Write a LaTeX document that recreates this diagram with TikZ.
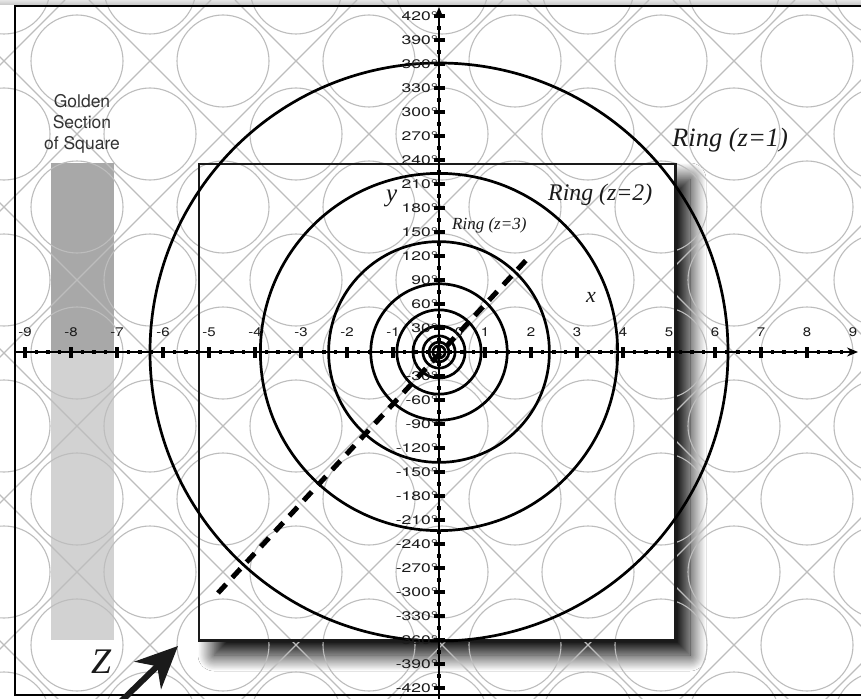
\documentclass[tikz,border=0pt]{standalone}
\usepackage{fontspec}
\setmainfont{Liberation Serif}
\newfontfamily\helv{TeX Gyre Heros}
\newfontfamily\helvy[FakeStretch=1.4]{TeX Gyre Heros}
\newfontfamily\helvx[FakeStretch=1.2]{TeX Gyre Heros}
\newcommand\yaxfont{\helvy\fontsize{12.5}{13}\selectfont}
\newcommand\xaxfont{\helvx\fontsize{12.5}{13}\selectfont}
\newcommand\gsfont{\helv\fontsize{17.5}{21}\selectfont}
\newcommand\degmark{°}
\usetikzlibrary{shadows.blur,arrows.meta}
\definecolor{patgray}{HTML}{BDBDBD}
\definecolor{bardark}{HTML}{A8A8A8}
\definecolor{barlight}{HTML}{D2D2D2}
\definecolor{ink}{HTML}{1A1A1A}
\definecolor{textgray}{HTML}{333333}
\tikzset{
  pat/.style={draw=patgray, line width=1.1pt},
  ringline/.style={draw=black, line width=2.7pt},
  frameline/.style={draw=black, line width=2.4pt},
  axisline/.style={draw=black, line width=1.6pt},
  ylab/.style={anchor=east, inner sep=0pt, text=ink, font=\yaxfont},
  xlab/.style={anchor=center, inner sep=0pt, text=ink, font=\xaxfont},
  ringlab/.style={anchor=base west, inner sep=0pt, text=ink},
}
\newcommand\ylabel[3]{\node[ylab] (#1) at (438,#2) {\yaxfont #3};}
\newcommand\xlabel[3]{\node[xlab] (#1) at (#2,332) {\xaxfont #3};}
\begin{document}
\begin{tikzpicture}[x=1pt,y=-1pt]
\useasboundingbox (0,0) rectangle (861,698);
\fill[white] (0,0) rectangle (861,698);
\shade[top color=gray!20, bottom color=gray!45] (0,0) rectangle (861,5);
% golden section bar
\fill[bardark] (51,163) rectangle (114,352);
\fill[barlight] (51,352) rectangle (114,640);
% square with shadow
\node[fill=white, minimum width=476pt, minimum height=476pt, inner sep=0pt,
  blur shadow={shadow xshift=15pt, shadow yshift=-15pt, shadow blur radius=16pt,
  shadow opacity=100, shadow blur steps=40, shadow blur extra rounding=0pt}] (sq) at (437,402) {};
% background pattern
\begin{scope}
\clip (0,0) rectangle (861,698);
\foreach \k in {0,...,11} \draw[pat] ({65+146*\k},0) -- ({65+146*\k-700},700);
\foreach \k in {-5,...,6} \draw[pat] ({-57+146*\k},0) -- ({-57+146*\k+700},700);
\foreach \n in {-1,...,12}{\foreach \p in {-1,...,10}{%
  \ifodd\numexpr\n+\p\relax \draw[pat] ({4+73*\n},{61+73*\p}) circle[radius=46pt];\fi}}
\end{scope}
% frame
\coordinate (ftr) at (861,6);
\coordinate (ftl) at (15,6);
\coordinate (fbl) at (15,695);
\coordinate (fbr) at (861,695);
\draw[frameline] (ftr) -- (ftl) -- (fbl) -- (fbr);
% square outline
\draw[draw=ink, line width=2.6pt] (sq.north west) rectangle (sq.south east);
% rings
\coordinate (O) at (439,352);
\foreach \k in {0,...,8}{\pgfmathsetmacro\rr{289/(1.618^\k)}
  \draw[ringline] (O) circle[radius=\rr pt];}
% axes
\coordinate (xa) at (15,352);
\coordinate (xb) at (858,352);
\coordinate (ya) at (439,700);
\coordinate (yb) at (439,7);
\draw[axisline, -{Stealth[length=11pt,width=9pt]}] (xa) -- (xb);
\draw[axisline, -{Stealth[length=11pt,width=9pt]}] (ya) -- (yb);
\foreach \t in {-36,...,35}{
  \pgfmathsetmacro\xx{439+11.5*\t}
  \pgfmathtruncatemacro\mm{mod(abs(\t),4)}
  \ifnum\mm=0
    \fill ({\xx-1.9},346.5) rectangle ({\xx+1.9},357.5);
  \else
    \fill ({\xx-1.9},350.1) rectangle ({\xx+1.9},353.9);
  \fi
}
\foreach \t in {-28,...,28}{
  \ifnum\t=0\else
  \pgfmathsetmacro\yy{352-12*\t}
  \ifodd\t
    \fill (437.1,{\yy-1.9}) rectangle (440.9,{\yy+1.9});
  \else
    \fill (433.5,{\yy-1.9}) rectangle (444.5,{\yy+1.9});
  \fi\fi
}
% y axis labels
\ylabel{yp14}{16}{420\degmark}
\ylabel{yp13}{40}{390\degmark}
\ylabel{yp12}{64}{360\degmark}
\ylabel{yp11}{88}{330\degmark}
\ylabel{yp10}{112}{300\degmark}
\ylabel{yp9}{136}{270\degmark}
\ylabel{yp8}{160}{240\degmark}
\ylabel{yp7}{184}{210\degmark}
\ylabel{yp6}{208}{180\degmark}
\ylabel{yp5}{232}{150\degmark}
\ylabel{yp4}{256}{120\degmark}
\ylabel{yp3}{280}{90\degmark}
\ylabel{yp2}{304}{60\degmark}
\ylabel{yp1}{328}{30\degmark}
\ylabel{ym1}{376}{-30\degmark}
\ylabel{ym2}{400}{-60\degmark}
\ylabel{ym3}{424}{-90\degmark}
\ylabel{ym4}{448}{-120\degmark}
\ylabel{ym5}{472}{-150\degmark}
\ylabel{ym6}{496}{-180\degmark}
\ylabel{ym7}{520}{-210\degmark}
\ylabel{ym8}{544}{-240\degmark}
\ylabel{ym9}{568}{-270\degmark}
\ylabel{ym10}{592}{-300\degmark}
\ylabel{ym11}{616}{-330\degmark}
\ylabel{ym12}{640}{-360\degmark}
\ylabel{ym13}{664}{-390\degmark}
\ylabel{ym14}{688}{-420\degmark}
% x axis labels
\xlabel{xm9}{25}{-9}
\xlabel{xm8}{71}{-8}
\xlabel{xm7}{117}{-7}
\xlabel{xm6}{163}{-6}
\xlabel{xm5}{209}{-5}
\xlabel{xm4}{255}{-4}
\xlabel{xm3}{301}{-3}
\xlabel{xm2}{347}{-2}
\xlabel{xm1}{393}{-1}
\xlabel{x0}{459}{0}
\xlabel{xp1}{485}{1}
\xlabel{xp2}{531}{2}
\xlabel{xp3}{577}{3}
\xlabel{xp4}{623}{4}
\xlabel{xp5}{669}{5}
\xlabel{xp6}{715}{6}
\xlabel{xp7}{761}{7}
\xlabel{xp8}{807}{8}
\xlabel{xp9}{853}{9}
% z axis (dashed)
\coordinate (za) at (218,593);
\coordinate (zb) at (530,256);
\draw[line width=5pt, dash pattern=on 12pt off 9pt] (za) -- (zb);
% labels
\node[text=textgray, align=center, inner sep=0pt, font=\gsfont] (gs) at (82,124) {Golden\\Section\\of Square};
\node[ringlab] (lz1) at (672,146) {\itshape\fontsize{26.5}{30}\selectfont Ring (z=1)};
\node[ringlab] (lz2) at (548,200) {\itshape\fontsize{23.8}{28}\selectfont Ring (z=2)};
\node[ringlab] (lz3) at (452,229) {\itshape\fontsize{17}{20}\selectfont Ring (z=3)};
\node[ringlab] (ly) at (386,201) {\itshape\fontsize{25}{28}\selectfont y};
\node[ringlab] (lx) at (586,302) {\itshape\fontsize{22}{26}\selectfont x};
\node[ringlab] (lZ) at (91,673) {\itshape\fontsize{36}{40}\selectfont Z};
% Z arrow
\coordinate (zs) at (108,714);
\coordinate (zt) at (178,646);
\draw[ink, line width=6pt, -{Stealth[length=42pt,width=38pt,inset=13pt]}] (zs) -- (zt);
\end{tikzpicture}
\end{document}
